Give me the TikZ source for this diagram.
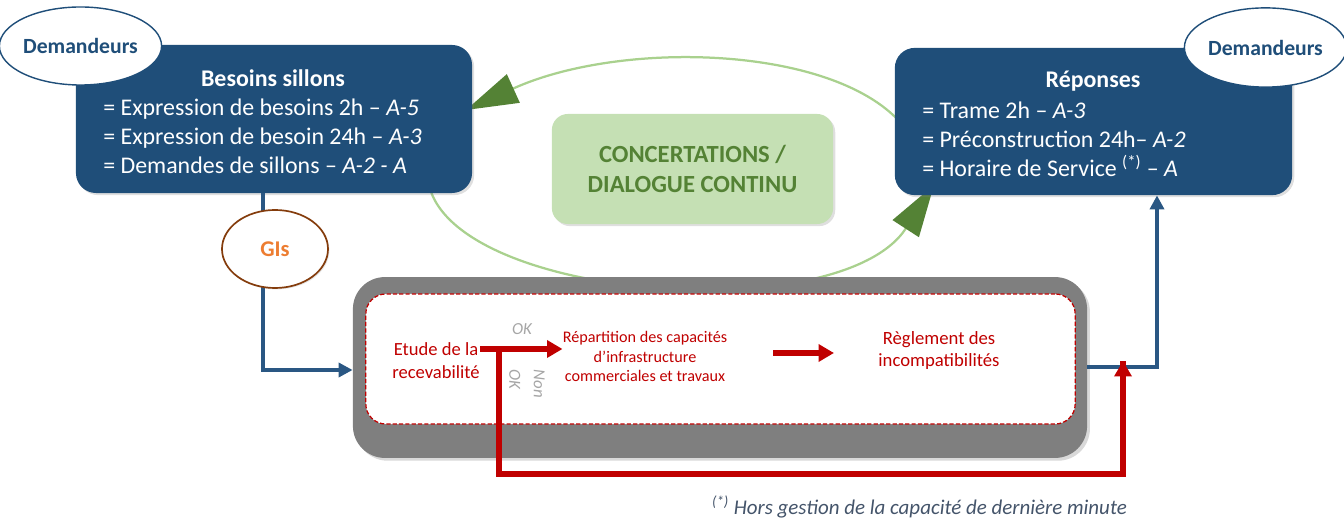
\documentclass[tikz,border=0pt]{standalone}
\usepackage{fontspec}
\setmainfont{Carlito}
\usetikzlibrary{shapes.geometric,shadows,arrows.meta}

\definecolor{bleuboite}{HTML}{1F4E79}
\definecolor{bleulien}{HTML}{2A5783}
\definecolor{vertclair}{HTML}{A9D18E}
\definecolor{vertfonce}{HTML}{548235}
\definecolor{vertfond}{HTML}{C5E0B4}
\definecolor{rougegi}{HTML}{C00000}
\definecolor{griscadre}{HTML}{7F7F7F}
\definecolor{brungi}{HTML}{843C0C}
\definecolor{orangegi}{HTML}{ED7D31}
\definecolor{grisok}{HTML}{A6A6A6}
\definecolor{bleunote}{HTML}{44546A}

\begin{document}
\begin{tikzpicture}[x=0.025cm,y=-0.025cm,
		boitebleue/.style={fill=bleuboite,rounded corners=0.5cm,drop shadow={opacity=0.25,shadow xshift=1.5pt,shadow yshift=-1.5pt}},
		bulle/.style={ellipse,draw=bleuboite,line width=1pt,fill=white,text=bleuboite,font=\fontsize{15.4}{17}\selectfont\bfseries,inner sep=0pt},
		texteblanc/.style={text=white,inner sep=0pt,font=\fontsize{17}{20.6}\selectfont},
		texterouge/.style={text=rougegi,inner sep=0pt,align=center},
		concert/.style={draw=vertclair,line width=1.6pt,-{Triangle[length=37pt,width=22pt,color=vertfonce]}},
		lienbleu/.style={draw=bleulien,line width=2.8pt,-{Triangle[length=10pt,width=10pt]}},
		lienrouge/.style={draw=rougegi,line width=3.6pt},
		flecherouge/.style={lienrouge,-{Triangle[length=11pt,width=12pt]}}]
		\useasboundingbox (0,0) rectangle (1344,523);
		\coordinate (pointeg) at (466,110);
		\coordinate (pointed) at (934,185);
		% boucle de concertation
		\draw[concert] (900,122) .. controls (830,45) and (620,40) .. (pointeg);
		\draw[concert] (428,180) .. controls (445,300) and (840,330) .. (pointed);
		\node (besoins) [boitebleue,minimum width=9.9cm,minimum height=3.7cm] at (274,119) {};
		\node (reponses) [boitebleue,minimum width=9.93cm,minimum height=3.68cm] at (1093.5,121.5) {};
		\node (concertation) [fill=vertfond,rounded corners=0.4cm,minimum width=7.03cm,minimum height=2.75cm,drop shadow={opacity=0.25,shadow xshift=1.5pt,shadow yshift=-1.5pt},text=vertfonce,align=center,font=\fontsize{17.5}{21}\selectfont\bfseries] at (692.5,169) {CONCERTATIONS /\\DIALOGUE CONTINU};
		\node (titreb) [texteblanc,font=\fontsize{17}{20.6}\selectfont\bfseries] at (273,78) {Besoins sillons};
		\node (listeb) [texteblanc,anchor=west,align=left] at (103,136) {= Expression de besoins 2h – \textit{A-5}\\= Expression de besoin 24h – \textit{A-3}\\= Demandes de sillons – \textit{A-2 - A}};
		\node (titrer) [texteblanc,font=\fontsize{17}{20.6}\selectfont\bfseries] at (1093,81) {Réponses};
		\node (lister) [texteblanc,anchor=west,align=left] at (922,139) {= Trame 2h – \textit{A-3}\\= Préconstruction 24h– \textit{A-2}\\= Horaire de Service \textsuperscript{(*)} – \textit{A}};
		\node (dem1) [bulle,minimum width=3.68cm,minimum height=1.95cm] at (80.5,46) {Demandeurs};
		\node (dem2) [bulle,minimum width=3.63cm,minimum height=1.98cm] at (1265.5,47.5) {Demandeurs};
		% cadre du gestionnaire
		\node (cadre) [fill=griscadre,rounded corners=0.8cm,minimum width=18.35cm,minimum height=4.52cm,drop shadow={opacity=0.3,shadow xshift=2pt,shadow yshift=-2pt}] at (720,367.5) {};
		\node (etapes) [fill=white,draw=rougegi,dash pattern=on 3pt off 1.5pt,line width=0.9pt,rounded corners=0.5cm,minimum width=17.73cm,minimum height=3.25cm] at (720.5,359) {};
		\coordinate (coude) at (263,370);
		\coordinate (coude2) at (1157,367);
		\draw[lienbleu] (besoins.south -| coude) -- (coude) -- (cadre.west |- coude);
		\draw[lienbleu] (cadre.east |- coude2) -- (coude2) -- (reponses.south -| coude2);
		\node (gis) [ellipse,draw=brungi,line width=1.2pt,fill=white,text=orangegi,font=\fontsize{16}{18}\selectfont\bfseries,minimum width=2.65cm,minimum height=1.95cm,drop shadow={opacity=0.2,shadow xshift=1pt,shadow yshift=-1pt}] at (275,249) {GIs};
		\node (etude) [texterouge,font=\fontsize{13.2}{16.2}\selectfont] at (436,360.5) {Etude de la\\recevabilité};
		\node (repart) [texterouge,font=\fontsize{11.5}{13.8}\selectfont] at (645,356.5) {Répartition des capacités\\d’infrastructure\\commerciales et travaux};
		\node (reglement) [texterouge,font=\fontsize{13.3}{16.2}\selectfont] at (939,350.5) {Règlement des\\incompatibilités};
		\node (ok) [text=grisok,inner sep=0pt,font=\fontsize{12}{14}\selectfont\itshape] at (522,329) {OK};
		\node (nonok) [text=grisok,inner sep=0pt,rotate=-90,align=left,font=\fontsize{12}{17.5}\selectfont\itshape] at (527,384) {Non\\OK};
		% liaisons internes
		\coordinate (embranch) at (499,349);
		\coordinate (bas) at (499,474);
		\coordinate (retour) at (1123,361);
		\coordinate (r1) at (773,353);
		\coordinate (r2) at (834,353);
		\draw[lienrouge] (embranch) -- (bas) -| (retour);
		\draw[flecherouge] (bas -| retour) -- (retour);
		\draw[flecherouge] (etude.east |- embranch) -- (repart.west |- embranch);
		\draw[flecherouge] (r1) -- (r2);
		\node (note) [text=bleunote,inner sep=0pt,font=\fontsize{14.9}{17}\selectfont\itshape] at (919.5,507) {\textsuperscript{(*)} Hors gestion de la capacité de dernière minute};
	\end{tikzpicture}
\end{document}
